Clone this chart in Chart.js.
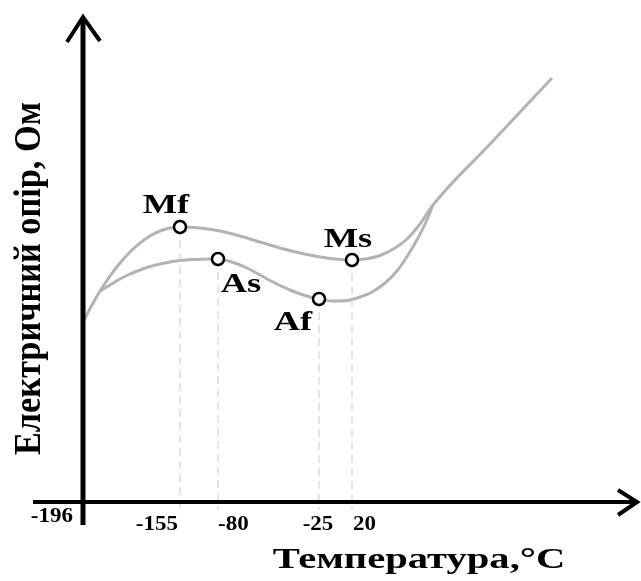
<!DOCTYPE html>
<html>
<head>
<meta charset="utf-8">
<script src="https://cdn.jsdelivr.net/npm/chart.js@4"></script>
<style>
  html, body { margin: 0; padding: 0; background: #ffffff; }
  canvas { display: block; }
</style>
</head>
<body>
<canvas id="c" width="641" height="581"></canvas>
<script>
// ---- data (schematic position units; origin = crossing of the axes) ----
const tickValues = [0, 97, 135, 236, 269];
const tickLabels = ['-196', '-155', '-80', '-25', '20'];

// cooling branch (through Mf and Ms) incl. common start and common straight part
const coolX = [1, 9, 17, 27, 37, 47, 57, 67, 77, 87, 97, 117, 137, 157, 177, 197, 217, 237, 257, 269, 282, 297, 312, 324, 337, 350, 409, 469];
const coolY = [182, 197, 211, 226, 239, 250, 259, 266, 271, 274, 275, 274, 271, 266, 260, 254, 249, 245, 242.5, 242, 243, 246.5, 254, 263, 278, 297, 360, 424];

// heating branch (through As and Af)
const heatX = [17, 27, 37, 47, 57, 67, 77, 87, 97, 112, 127, 135, 147, 162, 177, 192, 207, 222, 236, 250, 264, 277, 289, 302, 314, 325, 335, 343, 350];
const heatY = [211, 217, 223, 228, 232, 235.5, 238, 240, 241.5, 242.5, 243, 243, 240.5, 235, 227, 219, 212, 206.5, 203, 201, 201.5, 205, 210, 219, 231, 247, 264, 280, 297];

// transformation points
const markerNames = ['Mf', 'As', 'Af', 'Ms'];
const markerX = [97, 135, 236, 269];
const markerY = [275, 243, 203, 242];
const dropBottom = -8;

const xTitle = 'Температура,°C';
const yTitle = 'Електричний опір, Ом';

// ---- styles ----
const curveColor = '#b3b3b3';
const dashColor = '#c9c9c9';
const serif = '"Liberation Serif", "Times New Roman", serif';
const tickAlign = ['right', 'right', 'left', 'center', 'left'];
const tickDx = [-10, -2, 0, -1, 1];
const tickDy = [20, 28, 28, 28, 28];
const labelDx = [-14, 23, -26, -4];
const labelDy = [-14, 33, 31, -13];

const toPts = (xs, ys) => xs.map((x, i) => ({ x: x, y: ys[i] }));

const datasets = [];
datasets.push({
  data: toPts(markerX, markerY),
  showLine: false,
  pointRadius: 6,
  pointHoverRadius: 6,
  pointBorderWidth: 2.5,
  pointBackgroundColor: '#ffffff',
  pointBorderColor: '#000000'
});
markerX.forEach((mx, i) => {
  datasets.push({
    data: [{ x: mx, y: markerY[i] }, { x: mx, y: dropBottom }],
    borderColor: dashColor,
    borderWidth: 1,
    borderDash: [8, 5],
    pointRadius: 0,
    fill: false
  });
});
datasets.push({
  data: toPts(heatX, heatY),
  borderColor: curveColor,
  borderWidth: 3,
  pointRadius: 0,
  cubicInterpolationMode: 'monotone',
  fill: false
});
datasets.push({
  data: toPts(coolX, coolY),
  borderColor: curveColor,
  borderWidth: 3,
  pointRadius: 0,
  cubicInterpolationMode: 'monotone',
  fill: false
});

function stretchText(ctx, text, x, y, align, font, sx) {
  ctx.save();
  ctx.font = font;
  ctx.textAlign = align;
  ctx.textBaseline = 'alphabetic';
  ctx.translate(x, y);
  ctx.scale(sx, 1);
  ctx.fillText(text, 0, 0);
  ctx.restore();
}

const decor = {
  id: 'decor',
  afterDatasetsDraw(chart) {
    const ctx = chart.ctx;
    const xs = chart.scales.x, ys = chart.scales.y;
    const ox = xs.getPixelForValue(0), oy = ys.getPixelForValue(0);
    const left = xs.getPixelForValue(xs.min), right = xs.getPixelForValue(xs.max);
    const top = ys.getPixelForValue(ys.max), bottom = ys.getPixelForValue(ys.min);
    ctx.save();
    ctx.strokeStyle = '#000';
    ctx.lineCap = 'butt';
    // x axis
    ctx.lineWidth = 4;
    ctx.beginPath(); ctx.moveTo(left, oy); ctx.lineTo(right - 2, oy); ctx.stroke();
    ctx.lineJoin = 'miter';
    ctx.beginPath(); ctx.moveTo(right - 22, oy - 12); ctx.lineTo(right - 3, oy); ctx.lineTo(right - 22, oy + 13); ctx.stroke();
    // y axis
    ctx.lineWidth = 5;
    ctx.beginPath(); ctx.moveTo(ox, bottom); ctx.lineTo(ox, top + 3); ctx.stroke();
    ctx.lineWidth = 4;
    ctx.beginPath(); ctx.moveTo(ox - 16, top + 27); ctx.lineTo(ox, top + 2); ctx.lineTo(ox + 17, top + 26); ctx.stroke();
    ctx.restore();

    ctx.save();
    ctx.fillStyle = '#000';
    // tick labels
    tickValues.forEach((v, i) => {
      const px = xs.getPixelForValue(v) + tickDx[i];
      stretchText(ctx, tickLabels[i], px, oy + tickDy[i], tickAlign[i], 'bold 20px ' + serif, 1.15);
    });
    // point labels
    markerNames.forEach((n, i) => {
      const px = xs.getPixelForValue(markerX[i]) + labelDx[i];
      const py = ys.getPixelForValue(markerY[i]) + labelDy[i];
      stretchText(ctx, n, px, py, 'center', 'bold 28px ' + serif, 1.3);
    });
    // x title
    stretchText(ctx, xTitle, 419, 568, 'center', 'bold 29px ' + serif, 1.4);
    // y title (rotated)
    ctx.font = 'bold 37px ' + serif;
    const w = ctx.measureText(yTitle).width;
    ctx.save();
    ctx.translate(40, 278.5);
    ctx.rotate(-Math.PI / 2);
    ctx.scale(353 / w, 1);
    ctx.textAlign = 'center';
    ctx.textBaseline = 'alphabetic';
    ctx.fillText(yTitle, 0, 0);
    ctx.restore();
    ctx.restore();
  }
};

new Chart(document.getElementById('c'), {
  type: 'line',
  data: { datasets: datasets },
  options: {
    responsive: false,
    animation: false,
    events: [],
    layout: { autoPadding: false, padding: { left: 33, right: 1, top: 15, bottom: 56 } },
    plugins: { legend: { display: false }, tooltip: { enabled: false } },
    scales: {
      x: { type: 'linear', min: -50, max: 557, display: false },
      y: { type: 'linear', min: -23, max: 487, display: false }
    }
  },
  plugins: [decor]
});
</script>
</body>
</html>
